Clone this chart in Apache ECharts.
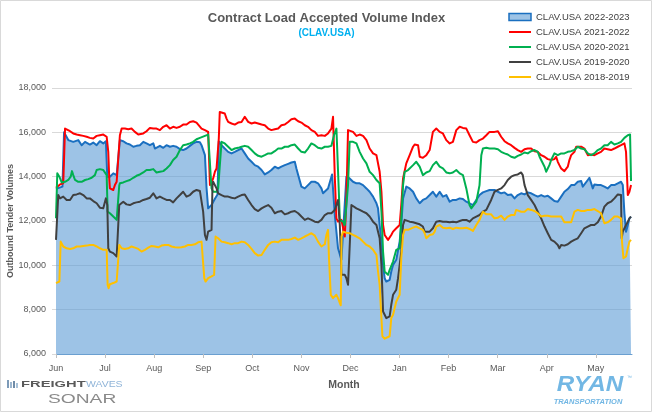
<!DOCTYPE html>
<html>
<head>
<meta charset="utf-8">
<script src="https://cdn.jsdelivr.net/npm/echarts@6/dist/echarts.min.js"></script>
<style>html,body{margin:0;padding:0;background:#fff}#c{width:653px;height:413px}</style>
</head>
<body>
<div id="c"></div>
<script>
// ---- categories / labels ----
const months = ['Jun','Jul','Aug','Sep','Oct','Nov','Dec','Jan','Feb','Mar','Apr','May'];
const seriesNames = ['CLAV.USA 2022-2023','CLAV.USA 2021-2022','CLAV.USA 2020-2021','CLAV.USA 2019-2020','CLAV.USA 2018-2019'];
const yMin = 6000, yMax = 18000, yStep = 2000;
const lastDay = 357; // days after Jun 1 covered by the x axis

// ---- series values: [day since Jun 1, outbound tender volume] ----
const clav2223 = [[0,13450],[4,13550],[5,16000],[5.6,16020],[7.6,15650],[10.7,15570],[13.8,15650],[15.9,15420],[18,15570],[21,15450],[23.1,15540],[25.2,15420],[27.2,15600],[29.3,15500],[30.9,15600],[31.8,14000],[33.4,14000],[35.5,14150],[37.6,14070],[38.6,14000],[39.6,15650],[41.7,15600],[43.7,15500],[45.8,15450],[47.9,15350],[49.9,15390],[52,15420],[54.1,15570],[56.1,15500],[58.2,15420],[60.3,15500],[61.3,15270],[62.3,15270],[64.4,15390],[66.5,15300],[68.5,15420],[70.6,15350],[72.6,15390],[74.7,15350],[76.8,15240],[78.8,15200],[80.9,15270],[83,15390],[85,15500],[87.1,15570],[89.2,15550],[90.2,15420],[92.3,14970],[93.3,13500],[94.3,12570],[96.4,12720],[98.5,13000],[100.1,13200],[100.9,15600],[102.6,15420],[104.6,15270],[106.7,15120],[108.8,15050],[110.8,15120],[112.9,15200],[115,15270],[117,15050],[119.1,14820],[121.2,14670],[123.2,14520],[125.3,14450],[127.4,14300],[129.4,14100],[131.5,14190],[133.5,14300],[135.6,14450],[137.7,14370],[139.7,14450],[141.8,14520],[143.9,14580],[145.9,14640],[148,14670],[149,14370],[150.1,14070],[152.1,13550],[154.2,13470],[156.2,13620],[158.3,13770],[160.4,13770],[162.4,13700],[164.5,13470],[165.5,13250],[166.6,13170],[168.6,13470],[170.7,14000],[171.1,14100],[172.8,12270],[174.8,10770],[176.9,10250],[177.9,10170],[180,14000],[182,13920],[184.1,13770],[186.2,13700],[188.2,13700],[190.3,13620],[192.4,13470],[194.4,13320],[196.5,13100],[198.6,12800],[199.6,12570],[200.6,11820],[201.7,11070],[202.7,10020],[203.7,9420],[204.7,9270],[206.8,9350],[207.8,9720],[208.9,10020],[210.9,10250],[213,11070],[214,11820],[215.1,13020],[217.1,13550],[219.2,13470],[221.3,13320],[223.3,13020],[225.4,12800],[227.4,12950],[229.5,13020],[231.6,13170],[233.6,13320],[235.7,13100],[237.8,13320],[239.8,13100],[241.9,13170],[244,12870],[246,12950],[248.1,12950],[250.2,13020],[252.2,12990],[254.3,12870],[256.3,12800],[258.4,12720],[260.5,12950],[262.5,13170],[264.6,13290],[266.7,13350],[268.7,13400],[271.8,13400],[273.9,13320],[275.9,13250],[278,13290],[280,13170],[282.1,13200],[284.2,13020],[286.2,13170],[288.3,13250],[290.4,13200],[292.4,13290],[294.5,13250],[296.6,13170],[298.6,13100],[300.7,13170],[302.8,13100],[304.8,13140],[306.9,13020],[308.9,12900],[310,12990],[311,12870],[313.1,13100],[315.1,13320],[317.2,13440],[319.3,13620],[321.3,13620],[323.4,13770],[325.5,13800],[326.5,13550],[327.5,13470],[329.6,13850],[330.6,13950],[331.6,13920],[332.7,13470],[333.7,13650],[335.8,13620],[337.8,13620],[339.9,13550],[341.9,13470],[344,13620],[346.1,13620],[348.2,13700],[350.2,13770],[351.3,13620],[352.3,12350],[353.3,11520],[354.4,11820],[355.4,12120],[356.4,12200]];

const clav2122 = [[0,13500],[2.5,13650],[4.5,13700],[5.6,16170],[6.6,16170],[8.7,16050],[10.7,15950],[12.8,15900],[14.9,15870],[16.9,15840],[19,15800],[21,15750],[23.1,15720],[25.2,15840],[27.2,15870],[29.3,15900],[31.4,15800],[32.4,15120],[33,13920],[33.4,13470],[35.5,13400],[36.5,13620],[37.6,13770],[38.6,13850],[39.6,15870],[40.7,16170],[42.7,16170],[44.8,16140],[46.8,16170],[48.9,16020],[51,15900],[52,15840],[54.1,15950],[56.1,16050],[58.2,16200],[60.3,16170],[62.3,16170],[64.4,16100],[66.5,16250],[68.5,16320],[70.6,16170],[72.6,16250],[74.7,16200],[76.8,16250],[78.8,16350],[80.9,16350],[83,16470],[85,16500],[87.1,16440],[88.1,16400],[90.2,16170],[92.3,16100],[94.3,16020],[94.7,15200],[95.4,13620],[96.4,13700],[97.4,13920],[98.5,14220],[99.5,14370],[100.5,14370],[100.9,15720],[101.5,16920],[102.6,16920],[104.6,16850],[105.7,16620],[106.7,16470],[108.8,16400],[110.8,16350],[112.9,16440],[115,16470],[117,16700],[118.1,16620],[119.1,16470],[121.2,16400],[123.2,16440],[125.3,16400],[127.4,16350],[129.4,16320],[131.5,16170],[133.5,16100],[135.6,16140],[137.7,16170],[139.7,16320],[141.8,16350],[143.9,16470],[145.9,16590],[148,16620],[150.1,16500],[152.1,16440],[154.2,16320],[156.2,16250],[158.3,16100],[160.4,16020],[162.4,15840],[164.5,15870],[166.6,15840],[168.6,15950],[170.7,16170],[171.7,16700],[172.8,14000],[173.8,12120],[174.8,11970],[176.9,12050],[177.9,11970],[179,11300],[180,13000],[181,16100],[182,16100],[184.1,16020],[186.2,15840],[188.2,15900],[190.3,15840],[192.4,15650],[194.4,15270],[196.5,15050],[198.6,14970],[199.6,14900],[200.6,14220],[201.7,13320],[202.7,11820],[203.7,11370],[204.7,11300],[205.8,11150],[206.8,11070],[207.8,11370],[208.9,11520],[210.9,11670],[212,11600],[213,11820],[214,12720],[215.1,13920],[217.1,14600],[219.2,14970],[221.3,15350],[222.3,15450],[223.3,15450],[224.4,15420],[225.4,14900],[227.4,14850],[229.5,14970],[231.6,15200],[233.6,16020],[235.7,16170],[237.8,16020],[239.8,15950],[241.9,15650],[244,15500],[246,15570],[248.1,16100],[250.2,16250],[252.2,16200],[254.3,16170],[256.3,15870],[258.4,15570],[260.5,15540],[262.5,15650],[264.6,15720],[266.7,15870],[268.7,16020],[269.7,16100],[271.8,16020],[273.9,16050],[275.9,15800],[278,15600],[280,15500],[282.1,15420],[284.2,15300],[286.2,15200],[288.3,15120],[290.4,15240],[292.4,15270],[294.5,15270],[296.6,15150],[298.6,15120],[300.7,14970],[302.8,14900],[304.8,14790],[306.9,14750],[308.9,14790],[310,14900],[311,14670],[312,14520],[313.1,14370],[315.1,14250],[316.2,14190],[317.2,14450],[318.2,14750],[319.3,14970],[321.3,15120],[322.4,15350],[323.4,15390],[325.5,15350],[327.5,15270],[329.6,14970],[331.6,15000],[333.7,14970],[335.8,15050],[337.8,15120],[339.9,15270],[341.9,15240],[344,15200],[346.1,15270],[348.2,15350],[350.2,15420],[352.3,15500],[353.3,15120],[354.4,13170],[355.4,13320],[356.4,13620]];

const clav2021 = [[0,12120],[0.8,14150],[2.1,14000],[3.5,13740],[5.6,13770],[7.6,13850],[9.1,14000],[9.9,14250],[10.7,14070],[11.8,13850],[13.8,13770],[15.9,13770],[18,13850],[20,13890],[22.1,13950],[24.1,14070],[25.2,14300],[27.2,14340],[29.3,14300],[30.3,14250],[31.4,14070],[32,12420],[33.4,12350],[35.5,12200],[37.6,12050],[38.6,12050],[39.2,13600],[39.6,13700],[41.7,13740],[43.7,13800],[45.8,13850],[47.9,13950],[49.9,14040],[52,14100],[54.1,14190],[56.1,14300],[58.2,14300],[60.3,14340],[62.3,14190],[64.4,14220],[66.5,14250],[68.5,14370],[70.6,14520],[72.6,14750],[74.7,14900],[76.8,15200],[78.8,15420],[80.9,15450],[83,15500],[85,15570],[87.1,15690],[89.2,15750],[90.2,15800],[92.3,15840],[94.3,15900],[95.4,15870],[96,13920],[96.4,13470],[97.4,13320],[98.5,13290],[99.5,13320],[100.5,13470],[101.5,13470],[102.6,15570],[103.6,15650],[104.6,15500],[106.7,15350],[108.8,15200],[110.8,15270],[112.9,15300],[115,15350],[117,15390],[119.1,15350],[121.2,15200],[123.2,15050],[125.3,14940],[127.4,14900],[129.4,14970],[131.5,15050],[133.5,15050],[135.6,15150],[137.7,15270],[139.7,15270],[141.8,15350],[143.9,15350],[145.9,15420],[148,15450],[150.1,15270],[152.1,15120],[154.2,15090],[156.2,15270],[158.3,15500],[160.4,15420],[162.4,15300],[164.5,15270],[166.6,15350],[168.6,15350],[170.7,15390],[172.3,15870],[173.8,16170],[174.8,16100],[175.2,13500],[175.9,12050],[176.9,11970],[177.9,11970],[179,11820],[181,13620],[182,15570],[184.1,15570],[186.2,15500],[188.2,15120],[190.3,14820],[192.4,14600],[194.4,14220],[196.5,14070],[198.6,13850],[199.6,13770],[200.6,13700],[201.7,12420],[202.7,10620],[203.7,9720],[204.7,9650],[205.8,9570],[206.8,9800],[208.9,10170],[210.9,10700],[213,10770],[214,10770],[215.1,13620],[216.1,14220],[218.2,14300],[219.2,14370],[221.3,14520],[223.3,14670],[225.4,14450],[227.4,14070],[229.5,14190],[231.6,14250],[233.6,14520],[235.7,14670],[237.8,14450],[239.8,14370],[241.9,14190],[244,14150],[246,14190],[248.1,14300],[250.2,14150],[252.2,14070],[254.3,13470],[256.3,12720],[257.4,12570],[258.4,12650],[260.5,12870],[262.5,13620],[263.6,14970],[264.6,15270],[266.7,15300],[268.7,15270],[269.7,15200],[271.8,15270],[273.9,15240],[275.9,15120],[278,15050],[280,15000],[282.1,14900],[284.2,14850],[286.2,14940],[288.3,15000],[290.4,15090],[292.4,15050],[294.5,15150],[296.6,15200],[298.6,15120],[299.7,14900],[300.7,14750],[301.7,14670],[302.8,14450],[303.8,14220],[304.8,14190],[305.8,14520],[306.9,14750],[308.9,15050],[311,14970],[313.1,15050],[315.1,15050],[317.2,15120],[319.3,15150],[321.3,15200],[323.4,15350],[325.5,15270],[327.5,15240],[329.6,15050],[331.6,14970],[333.7,15050],[335.8,15200],[337.8,15270],[339.9,15420],[341.9,15420],[344,15570],[346.1,15450],[348.2,15500],[350.2,15570],[352.3,15750],[354.4,15870],[355.8,15900],[356.4,13800]];

const clav1920 = [[0,11150],[0.8,11150],[1.4,13170],[2.5,13020],[4.5,13100],[6.6,12950],[8.7,12950],[10.7,13170],[12.8,13200],[14.9,13250],[16.9,13170],[19,13020],[21,13020],[23.1,12900],[25.2,12800],[27.2,12600],[29.3,12570],[30.3,12650],[30.9,13020],[31.8,12720],[32.4,10770],[33.4,10620],[35.5,10550],[37.6,10400],[38.6,10470],[39.2,12720],[39.6,12800],[41.7,12870],[43.7,12750],[45.8,12720],[47.9,12800],[49.9,12840],[52,12870],[54.1,12950],[56.1,12990],[58.2,13050],[60.3,13250],[62.3,13020],[64.4,13100],[66.5,13020],[68.5,12950],[70.6,12950],[72.6,12840],[74.7,13020],[76.8,13170],[78.8,13320],[80.9,13100],[83,13170],[85,13320],[87.1,13400],[89.2,13350],[90.2,13320],[91.2,12420],[92.3,11370],[93.3,11150],[94.3,11520],[96.4,11600],[97,13620],[97.4,13770],[98.5,13700],[99.5,13470],[100.5,13250],[102.6,13170],[104.6,13100],[106.7,13100],[108.8,13050],[110.8,13020],[112.9,13100],[115,13170],[117,13200],[118.1,13170],[119.1,12950],[121.2,12720],[123.2,12540],[125.3,12450],[127.4,12570],[129.4,12650],[131.5,12720],[133.5,12600],[135.6,12350],[137.7,12420],[139.7,12450],[141.8,12300],[143.9,12350],[145.9,12420],[148,12450],[150.1,12350],[152.1,12200],[154.2,12050],[156.2,12120],[158.3,12050],[160.4,11970],[162.4,11940],[164.5,12050],[166.6,12270],[168.6,12350],[170.7,12350],[172.8,12500],[173.8,12720],[174.8,12950],[175.9,11820],[176.5,10620],[176.9,9570],[179,9570],[180,9420],[181,9120],[181.6,9050],[182.5,11670],[183.1,12720],[184.1,12650],[186.2,12570],[188.2,12500],[190.3,12420],[192.4,12350],[194.4,12200],[196.5,11970],[198.6,11820],[199.6,11520],[200.6,11220],[201.7,10020],[202.7,7920],[203.7,7770],[204.7,7620],[206.8,7700],[207.8,8220],[208.9,8670],[210.9,8900],[212,9420],[213,9420],[214,10620],[215.1,11820],[216.1,12050],[217.1,11970],[219.2,11970],[221.3,11940],[223.3,11900],[225.4,11850],[227.4,11750],[228.5,11520],[229.5,11450],[231.6,11520],[233.6,11670],[235.7,11970],[237.8,12000],[239.8,11970],[241.9,11970],[244,11940],[246,11970],[248.1,11940],[250.2,12000],[252.2,12050],[254.3,12050],[256.3,11970],[258.4,12120],[260.5,12200],[262.5,12270],[264.6,12420],[266.7,12500],[267.7,12570],[269.7,12950],[271.8,13320],[273.9,13400],[275.9,13470],[278,13620],[280,13850],[282.1,14000],[284.2,14070],[286.2,14100],[288.3,14190],[289.3,14070],[290.4,13620],[292.4,13170],[294.5,12950],[296.6,12720],[298.6,12420],[300.7,12120],[302.8,11750],[304.8,11450],[306.9,11150],[308.9,11070],[311,10920],[312,10770],[313.1,10920],[315.1,10890],[317.2,10950],[319.3,11070],[321.3,11150],[323.4,11220],[325.5,11450],[327.5,11670],[329.6,11750],[331.6,11820],[333.7,11820],[335.8,11940],[337.8,12200],[339.9,12650],[341.9,12800],[344,12870],[346.1,13020],[348.2,13200],[349.2,13250],[350.2,13170],[350.6,11220],[351.3,11520],[352.3,11600],[353.3,11820],[354.4,11970],[355.4,12120],[356.4,12200]];

const clav1819 = [[0,9200],[2.1,9270],[2.9,11070],[4.5,10850],[6.6,10770],[8.7,10740],[10.7,10770],[12.8,10850],[14.9,10850],[16.9,10875],[19,10890],[21,10920],[23.1,10920],[25.2,10850],[27.2,10770],[29.3,10700],[31.4,10700],[32,9120],[32.6,8970],[33.4,9150],[35.5,9200],[37.6,9270],[38.6,9300],[39.2,10920],[40.7,10770],[42.7,10740],[44.8,10770],[46.8,10850],[48.9,10800],[51,10740],[53,10620],[55.1,10700],[57.2,10800],[59.2,10875],[61.3,10850],[63.4,10815],[65.4,10890],[67.5,10920],[69.6,10920],[71.6,10850],[73.7,10815],[75.7,10800],[77.8,10815],[79.9,10850],[81.9,10920],[84,10920],[86.1,10950],[88.1,11040],[90.2,11070],[91.2,11070],[91.9,9420],[92.7,9270],[94.3,9420],[96.4,9500],[98,9570],[98.9,11300],[100.5,11220],[102.6,11070],[104.6,11040],[106.7,11000],[108.8,10950],[110.8,11000],[112.9,11000],[115,11070],[117,11040],[119.1,10920],[121.2,10740],[123.2,10550],[125.3,10440],[127.4,10470],[129.4,10700],[131.5,10920],[133.5,11040],[135.6,11070],[137.7,11040],[139.7,11150],[141.8,11150],[143.9,11150],[145.9,11190],[148,11250],[150.1,11150],[152.1,11220],[154.2,11300],[156.2,11370],[158.3,11450],[160.4,11340],[162.4,11070],[164.5,10850],[166.6,10950],[167.6,11370],[168.6,11600],[169.2,10320],[170.3,8670],[171.7,8520],[172.8,8520],[173.8,8670],[174.8,8520],[175.9,8300],[176.5,8200],[177,11300],[177.9,11520],[179,11520],[180,11470],[182,11450],[184.1,11370],[186.2,11300],[188.2,11220],[190.3,11070],[192.4,10920],[194.4,10850],[196.5,10700],[198.6,10470],[199.6,9720],[200.6,9120],[201.7,7620],[202.3,6800],[203.7,6690],[204.7,6720],[206.8,6800],[207.8,7620],[208.9,7770],[210.9,8370],[213,8670],[214,10320],[215.1,11370],[216.1,11600],[218.2,11600],[219.2,11640],[221.3,11700],[223.3,11750],[225.4,11670],[227.4,11600],[228.5,11450],[229.5,11220],[230.5,11150],[231.6,11370],[233.6,11400],[234.7,11520],[235.7,11750],[237.8,11820],[239.8,11700],[241.9,11670],[244,11700],[246,11640],[248.1,11700],[250.2,11670],[252.2,11670],[254.3,11700],[256.3,11640],[258.4,11550],[260.5,11820],[262.5,12050],[264.6,12420],[266.7,12300],[267.7,12345],[269.7,12300],[271.8,12120],[273.9,12150],[275.9,12240],[278,12050],[280,12200],[282.1,12270],[284.2,12270],[285.2,12500],[286.2,12420],[288.3,12420],[290.4,12420],[292.4,12540],[294.5,12500],[296.6,12450],[298.6,12350],[300.7,12200],[302.8,12240],[304.8,12240],[306.9,12200],[308.9,12200],[311,12200],[313.1,12200],[314.1,12200],[315.1,11940],[317.2,11940],[319.3,11940],[320.3,11940],[321.3,12420],[323.4,12500],[325.5,12450],[327.5,12450],[329.6,12500],[331.6,12500],[333.7,12540],[335.8,12450],[337.8,12350],[339.9,11900],[341.9,11940],[344,12050],[346.1,12200],[348.2,12200],[350.2,12120],[350.8,11070],[351.7,10320],[353.3,10400],[354.4,10770],[355.4,11070],[356.4,11150]];

// ---- chart ----
const FONT = '"Liberation Sans", Arial, sans-serif';
const GREY = '#595959';
const monthLen = 365 / 12;
const lineColors = ['#1a6fc0', '#FF0000', '#00B050', '#404040', '#FFC000'];
const chart = echarts.init(document.getElementById('c'), null, {renderer: 'canvas'});

function lineSeries(name, data, color) {
  return {
    name: name, type: 'line', data: data, symbol: 'none', showSymbol: false,
    smooth: false, animation: false,
    lineStyle: {color: color, width: 2, join: 'round'},
    itemStyle: {color: color}
  };
}

const areaSeries = lineSeries(seriesNames[0], clav2223, lineColors[0]);
areaSeries.areaStyle = {color: '#5B9BD5', opacity: 0.6, origin: 'start'};

function lineLegend(i) {
  return {name: seriesNames[i], icon: 'line',
    itemStyle: {color: lineColors[i], borderColor: lineColors[i], borderWidth: 2}};
}

const option = {
  backgroundColor: '#ffffff',
  animation: false,
  title: {
    text: 'Contract Load Accepted Volume Index',
    subtext: '(CLAV.USA)',
    left: 'center', top: 7, itemGap: 3,
    textStyle: {fontFamily: FONT, fontSize: 13, fontWeight: 'bold', color: GREY},
    subtextStyle: {fontFamily: FONT, fontSize: 10, fontWeight: 'bold', color: '#00B0F0'}
  },
  legend: {
    orient: 'vertical', left: 503, top: 7,
    itemWidth: 22, itemHeight: 7, itemGap: 5,
    textStyle: {fontFamily: FONT, fontSize: 9.5, color: '#404040'},
    data: [
      {name: seriesNames[0], icon: 'rect', itemStyle: {color: '#9DC3E6', borderColor: lineColors[0], borderWidth: 1.5}},
      lineLegend(1), lineLegend(2), lineLegend(3), lineLegend(4)
    ]
  },
  grid: {left: 56, right: 21, top: 88, bottom: 59, containLabel: false, outerBoundsMode: 'none'},
  xAxis: {
    type: 'value', min: 0, max: lastDay, interval: monthLen,
    name: 'Month', nameLocation: 'middle', nameGap: 26,
    nameTextStyle: {fontFamily: FONT, fontSize: 10.5, fontWeight: 'bold', color: GREY},
    axisLine: {show: true, lineStyle: {color: '#6A9FD0', width: 1}},
    axisTick: {show: true, length: 4, lineStyle: {color: '#bfbfbf'}},
    axisLabel: {
      fontFamily: FONT, fontSize: 9, color: GREY, margin: 10, showMaxLabel: false,
      formatter: function (v) {
        const i = Math.round(v / monthLen);
        if (Math.abs(v - i * monthLen) > 0.5 || i < 0 || i >= months.length) return '';
        return months[i];
      }
    },
    splitLine: {show: false}
  },
  yAxis: {
    type: 'value', min: yMin, max: yMax, interval: yStep,
    name: 'Outbound Tender Volumes', nameLocation: 'middle', nameGap: 41, nameMoveOverlap: false,
    nameTextStyle: {fontFamily: FONT, fontSize: 9, fontWeight: 'bold', color: GREY},
    axisLine: {show: false},
    axisTick: {show: true, length: 4, lineStyle: {color: '#d9d9d9'}},
    axisLabel: {
      fontFamily: FONT, fontSize: 9, color: GREY, margin: 10,
      formatter: function (v) { return v.toLocaleString('en-US'); }
    },
    splitLine: {show: true, lineStyle: {color: '#d9d9d9', width: 1}}
  },
  series: [
    areaSeries,
    lineSeries(seriesNames[1], clav2122, lineColors[1]),
    lineSeries(seriesNames[2], clav2021, lineColors[2]),
    lineSeries(seriesNames[3], clav1920, lineColors[3]),
    lineSeries(seriesNames[4], clav1819, lineColors[4])
  ],
  graphic: [
    {type: 'rect', silent: true, z: 100, shape: {x: 0.5, y: 0.5, width: 651, height: 411},
     style: {fill: 'none', stroke: '#d9d9d9', lineWidth: 1}},
    // FreightWaves SONAR logo (text)
    {type: 'group', left: 7, top: 380, silent: true, children: [
      {type: 'rect', shape: {x: 0, y: 0, width: 2, height: 8}, style: {fill: '#7d9bb8'}},
      {type: 'rect', shape: {x: 3, y: 2, width: 2, height: 6}, style: {fill: '#9db7cf'}},
      {type: 'rect', shape: {x: 6, y: 1, width: 2, height: 7}, style: {fill: '#6f8ca8'}},
      {type: 'rect', shape: {x: 9, y: 3, width: 2, height: 5}, style: {fill: '#a9c2d8'}}
    ]},
    {type: 'text', x: 21, y: 384, scaleX: 1.55, silent: true,
     style: {text: 'FREIGHT', fontFamily: FONT, fontSize: 9.5, fontWeight: 'bold', fill: '#5a5a5a', verticalAlign: 'middle', align: 'left'}},
    {type: 'text', x: 86, y: 384, scaleX: 1.1, silent: true,
     style: {text: 'WAVES', fontFamily: FONT, fontSize: 9.5, fontWeight: 'normal', fill: '#8fb4d8', verticalAlign: 'middle', align: 'left'}},
    {type: 'text', x: 48, y: 400, scaleX: 1.6, silent: true,
     style: {text: 'SONAR', fontFamily: FONT, fontSize: 12, fontWeight: 'normal', fill: '#8a8a8a', verticalAlign: 'middle', align: 'left'}},
    // RYAN Transportation logo (text)
    {type: 'text', x: 590, y: 385, scaleX: 1.1, silent: true,
     style: {text: 'RYAN', fontFamily: FONT, fontSize: 22, fontWeight: 'bold', fontStyle: 'italic', fill: '#72B7E4', verticalAlign: 'middle', align: 'center'}},
    {type: 'text', x: 627, y: 378, silent: true,
     style: {text: '™', fontFamily: FONT, fontSize: 5, fill: '#72B7E4', verticalAlign: 'middle', align: 'left'}},
    {type: 'text', x: 588, y: 402, silent: true,
     style: {text: 'TRANSPORTATION', fontFamily: FONT, fontSize: 7.5, fontWeight: 'bold', fontStyle: 'italic', fill: '#72B7E4', verticalAlign: 'middle', align: 'center'}}
  ]
};
chart.setOption(option);
</script>
</body>
</html>
